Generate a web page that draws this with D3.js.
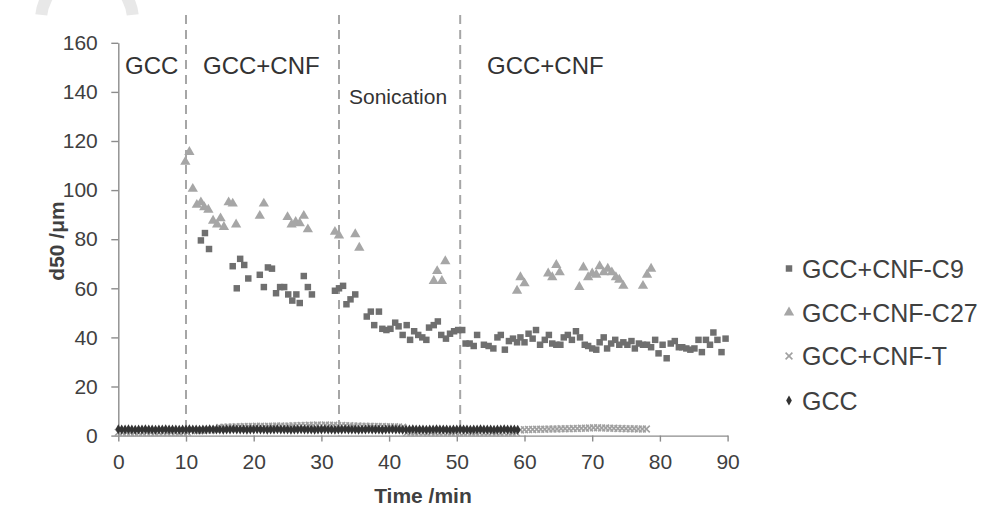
<!DOCTYPE html>
<html>
<head>
<meta charset="utf-8">
<script src="https://cdn.jsdelivr.net/npm/d3@7"></script>
<style>
  body { margin: 0; background: #fff; }
  svg { display: block; font-family: "Liberation Sans", Arial, sans-serif; }
</style>
</head>
<body>
<svg id="chart" width="992" height="514"></svg>
<script>
// --- data: [time (min), d50 (um)]
const seriesNames = ['GCC+CNF-C9', 'GCC+CNF-C27', 'GCC+CNF-T', 'GCC'];
const phaseTimes = [10, 32.6, 50.5];
const phaseLabels = ['GCC', 'GCC+CNF', 'Sonication', 'GCC+CNF'];
const xTicks = [0, 10, 20, 30, 40, 50, 60, 70, 80, 90];
const yTicks = [0, 20, 40, 60, 80, 100, 120, 140, 160];

const c9 = [
  [12.2,79.5],[12.8,82.5],[13.4,76],
  [16.9,69],[17.5,60],[18.0,72],[18.6,69.5],[19.2,64],
  [20.9,65.5],[21.5,60.5],[22.1,68.5],[22.7,68],[23.3,58],[23.9,60.5],[24.5,60.5],[25.1,57.5],
  [25.7,55],[26.3,57.5],[26.8,54],[27.4,65],[28.0,60.5],[28.6,57.5],
  [32.0,59],[32.6,60],[33.2,61],[33.7,53.5],[34.3,55.5],[35.0,57.5],
  [36.7,48.5],[37.3,50.5],[37.8,45],[38.5,50.5],[39.0,43.5],[39.6,43],[40.2,43.5],[40.9,46],
  [41.4,44.5],[42.0,41],[42.6,45],[43.1,39],[43.7,42.5],[44.3,41],[44.9,40],[45.5,39],
  [45.9,44],[46.6,45],[47.2,46.5],[47.7,41],[48.4,39.5],[49.0,41.5],[49.6,42.5],[50.2,43],[50.8,43],
  [51.3,37.5],[51.9,37.5],[52.5,36.5],[53.0,41],[54.0,37],[54.7,36.5],[55.4,35.5],[56.0,40],
  [56.5,41],[57.1,35],[57.7,38.5],[58.3,39.5],[58.9,38],[59.4,40],[60.0,38],[60.6,41.5],
  [61.2,39.5],[61.7,43],[62.3,37],[63.0,39],[63.6,41],[64.1,37.5],[64.7,37],[65.3,37],
  [65.8,40],[66.4,41],[67.0,39],[67.6,42.5],[68.2,40],[68.9,37],
  [69.4,36.5],[70.0,35.5],[70.6,35],[71.1,38],[71.7,40],[72.2,35.5],[72.8,37.5],[73.4,39],
  [74.0,37],[74.6,38],[75.2,37],[75.8,38.5],[76.3,35.5],[76.9,37.5],[77.5,37],[78.1,37],
  [78.7,36],[79.3,39],[79.8,33.5],[80.4,37],[81.0,31.5],[81.6,37.5],[82.2,38.5],[82.8,36],
  [83.3,36],[83.9,35.5],[84.5,35],[85.1,35.5],[85.7,39],[86.2,34],[86.8,39],[87.4,37],
  [87.9,42],[88.5,39],[89.1,34],[89.7,39.5]
];

const c27 = [
  [9.9,111.5],[10.5,115.5],[11.0,100.5],[11.6,94],[12.2,95],[12.7,93],[13.3,92],[14.0,87.5],
  [14.6,86],[15.1,88.5],[15.6,85],[16.3,95],[16.9,94.5],[17.4,86],[20.9,89.5],[21.5,94.5],
  [25.0,89],[25.6,86],[26.2,87],[26.8,86.5],[27.4,89.5],[28.0,84],[32.0,83],[32.6,81.5],
  [35.0,82],[35.6,76.5],[46.6,63],[47.1,67],[47.8,63],[48.3,71],
  [58.9,59],[59.4,64.5],[60.0,62],[63.5,66],[64.1,64.5],[64.7,69.5],[65.2,66.5],
  [68.1,60.5],[68.7,68.5],[69.4,64.5],[70.0,66],[70.6,65.5],[71.1,69],[71.7,66.5],[72.3,68],
  [72.9,66.5],[73.5,64.5],[74.0,63.5],[74.6,61],[77.5,61],[78.1,65.5],[78.7,68]
];

const cnfT = [
  [0,1.3],[0.6,1.2],[1.2,1.3],[1.8,1.2],[2.4,1.3],[3.0,1.3],[3.6,1.2],[4.2,1.3],[4.8,1.3],
  [5.4,1.2],[6.0,1.3],[6.6,1.3],[7.2,1.2],[7.8,1.3],[8.4,1.3],[9.0,1.2],[9.6,1.3],[10.2,1.3],
  [10.8,2.0],[11.4,2.1],[12.0,2.0],[12.6,2.1],[13.2,2.2],[13.8,2.3],[14.4,2.6],
  [15.0,3.3],[15.6,3.4],[16.2,3.5],[16.8,3.5],[17.4,3.6],[18.0,3.6],[18.6,3.7],[19.2,3.7],
  [19.8,3.7],[20.4,3.8],[21.0,3.8],[21.6,3.7],[22.2,3.8],[22.8,3.8],[23.4,3.9],[24.0,3.9],
  [24.6,3.8],[25.2,3.9],[25.8,4.0],[26.4,4.0],[27.0,4.1],[27.6,4.1],[28.2,4.2],[28.8,4.2],
  [29.4,4.3],[30.0,4.2],[30.6,4.3],[31.2,4.2],[31.8,4.2],[32.4,4.1],[33.0,4.1],[33.6,4.0],
  [34.2,4.0],[34.8,3.9],[35.4,3.9],[36.0,3.8],[36.6,3.8],[37.2,3.8],[37.8,3.7],[38.4,3.7],
  [39.0,3.7],[39.6,3.6],[40.2,3.6],[40.8,3.6],[41.4,3.5],[42.0,3.4],
  [42.6,1.1],[43.2,1.0],[43.8,1.0],[44.4,1.1],[45.0,1.0],[45.6,1.0],[46.2,1.1],[46.8,1.0],
  [47.4,1.0],[48.0,1.1],[48.6,1.0],[49.2,1.0],[49.8,1.1],[50.4,1.0],[51.0,1.0],[51.6,1.1],
  [52.2,1.0],[52.8,1.0],[53.4,1.1],[54.0,1.0],[54.6,1.0],[55.2,1.1],[55.8,1.0],[56.4,1.0],
  [57.0,1.1],[57.6,1.0],[58.2,1.0],[58.8,1.1],
  [59.4,2.3],[60.0,2.4],[60.6,2.5],[61.2,2.5],[61.8,2.6],[62.4,2.6],[63.0,2.6],[63.6,2.7],
  [64.2,2.7],[64.8,2.7],[65.4,2.8],[66.0,2.8],[66.6,2.8],[67.2,2.9],[67.8,2.9],[68.4,3.0],
  [69.0,3.0],[69.6,3.1],[70.2,3.2],[70.8,3.2],[71.4,3.1],[72.0,3.1],[72.6,3.0],[73.2,3.0],
  [73.8,2.9],[74.4,2.9],[75.0,2.8],[75.6,2.8],[76.2,2.8],[76.8,2.7],[77.4,2.7],[78.0,2.7]
];

const gcc = [
  [0,2.6],[0.5,2.5],[1,2.5],[1.5,2.6],[2,2.5],[2.5,2.4],[3,2.5],[3.5,2.5],[4,2.6],[4.5,2.5],
  [5,2.5],[5.5,2.4],[6,2.5],[6.5,2.5],[7,2.6],[7.5,2.5],[8,2.5],[8.5,2.5],[9,2.4],[9.5,2.5],
  [10,2.5],[10.5,2.6],[11,2.5],[11.5,2.5],[12,2.4],[12.5,2.5],[13,2.5],[13.5,2.6],[14,2.5],[14.5,2.5],
  [15,2.5],[15.5,2.4],[16,2.5],[16.5,2.5],[17,2.6],[17.5,2.5],[18,2.5],[18.5,2.5],[19,2.4],[19.5,2.5],
  [20,2.5],[20.5,2.6],[21,2.5],[21.5,2.5],[22,2.4],[22.5,2.5],[23,2.5],[23.5,2.6],[24,2.5],[24.5,2.5],
  [25,2.5],[25.5,2.4],[26,2.5],[26.5,2.5],[27,2.6],[27.5,2.5],[28,2.5],[28.5,2.5],[29,2.4],[29.5,2.5],
  [30,2.5],[30.5,2.6],[31,2.5],[31.5,2.5],[32,2.4],[32.5,2.5],[33,2.5],[33.5,2.6],[34,2.5],[34.5,2.5],
  [35,2.5],[35.5,2.4],[36,2.5],[36.5,2.5],[37,2.6],[37.5,2.5],[38,2.5],[38.5,2.5],[39,2.4],[39.5,2.5],
  [40,2.5],[40.5,2.6],[41,2.5],[41.5,2.5],[42,2.4],[42.5,2.5],[43,2.5],[43.5,2.6],[44,2.5],[44.5,2.5],
  [45,2.5],[45.5,2.4],[46,2.5],[46.5,2.5],[47,2.6],[47.5,2.5],[48,2.5],[48.5,2.5],[49,2.4],[49.5,2.5],
  [50,2.5],[50.5,2.6],[51,2.5],[51.5,2.5],[52,2.4],[52.5,2.5],[53,2.5],[53.5,2.6],[54,2.5],[54.5,2.5],
  [55,2.5],[55.5,2.4],[56,2.5],[56.5,2.5],[57,2.6],[57.5,2.5],[58,2.5],[58.5,2.5],[59,2.4]
];

const svg = d3.select('#chart');
const textColor = '#404040';
const axisColor = '#8c8c8c';

// faint watermark arc in the top-left corner
svg.append('path')
  .attr('transform', 'translate(87,20)')
  .attr('d', d3.arc().innerRadius(40).outerRadius(52).startAngle(-1.46).endAngle(1.46)())
  .attr('fill', '#e8e8e8');

const x = d3.scaleLinear().domain([0, 90]).range([118.3, 727.6]);
const y = d3.scaleLinear().domain([0, 160]).range([435.6, 42.8]);

// axes
const yAxis = svg.append('g')
  .attr('transform', `translate(${x(0)},0)`)
  .call(d3.axisLeft(y).tickValues(yTicks).tickSize(7).tickSizeOuter(0).tickPadding(13.5));
const xAxis = svg.append('g')
  .attr('transform', `translate(0,${y(0)})`)
  .call(d3.axisBottom(x).tickValues(xTicks).tickSize(6).tickSizeOuter(0).tickPadding(12));

[xAxis, yAxis].forEach(g => {
  g.selectAll('path, line').attr('stroke', axisColor).attr('stroke-width', 1.4);
  g.selectAll('text').attr('fill', textColor).style('font-size', '21px')
    .style('font-family', '"Liberation Sans", Arial, sans-serif');
});

// phase separators
svg.selectAll('line.phase')
  .data(phaseTimes)
  .join('line')
  .attr('class', 'phase')
  .attr('x1', d => x(d)).attr('x2', d => x(d))
  .attr('y1', 15).attr('y2', y(0))
  .attr('stroke', '#a6a6a6')
  .attr('stroke-width', 2)
  .attr('stroke-dasharray', '9,6');

// phase labels
const phaseLabelPos = [
  { x: 125, y: 74, size: 24 },
  { x: 203, y: 74, size: 24 },
  { x: 349, y: 104, size: 21 },
  { x: 487, y: 74, size: 24 }
];
svg.selectAll('text.phase')
  .data(phaseLabels)
  .join('text')
  .attr('class', 'phase')
  .attr('x', (d, i) => phaseLabelPos[i].x)
  .attr('y', (d, i) => phaseLabelPos[i].y)
  .style('font-size', (d, i) => phaseLabelPos[i].size + 'px')
  .attr('fill', '#333')
  .text(d => d);

// marker styles
const markers = [
  { data: c9, sym: d3.symbolSquare, size: 42, fill: '#6f6f6f', stroke: 'none' },
  { data: c27, sym: d3.symbolTriangle, size: 46, fill: '#a6a6a6', stroke: 'none' },
  { data: cnfT, sym: d3.symbolTimes, size: 32, fill: 'none', stroke: '#a0a0a0' },
  { data: gcc, sym: d3.symbolDiamond, size: 28, fill: '#333333', stroke: 'none' }
];

markers.forEach((m, i) => {
  svg.append('g')
    .selectAll('path')
    .data(m.data)
    .join('path')
    .attr('transform', d => `translate(${x(d[0])},${y(d[1])})`)
    .attr('d', d3.symbol(m.sym, m.size)())
    .attr('fill', m.fill)
    .attr('stroke', m.stroke)
    .attr('stroke-width', 1.6);
});

// legend
const legendY = [268.5, 312.5, 356, 400.5];
const legend = svg.append('g');
seriesNames.forEach((name, i) => {
  const m = markers[i];
  legend.append('path')
    .attr('transform', `translate(789,${legendY[i]})`)
    .attr('d', d3.symbol(m.sym, m.size)())
    .attr('fill', m.fill)
    .attr('stroke', m.stroke)
    .attr('stroke-width', 1.6);
  legend.append('text')
    .attr('x', 802)
    .attr('y', legendY[i] + 9)
    .attr('fill', textColor)
    .style('font-size', '25px')
    .text(name);
});

// axis titles
svg.append('text')
  .attr('transform', `translate(64,241) rotate(-90)`)
  .attr('text-anchor', 'middle')
  .attr('fill', textColor)
  .style('font-size', '21px')
  .style('font-weight', 'bold')
  .text('d50 /μm');

svg.append('text')
  .attr('x', (x(0) + x(90)) / 2)
  .attr('y', 503)
  .attr('text-anchor', 'middle')
  .attr('fill', textColor)
  .style('font-size', '21px')
  .style('font-weight', 'bold')
  .text('Time /min');
</script>
</body>
</html>
